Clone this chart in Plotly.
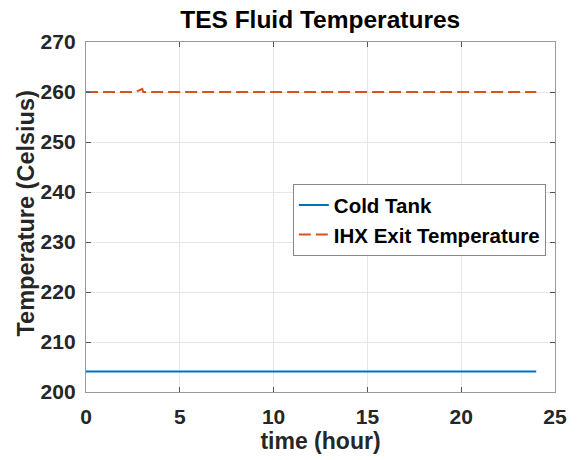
import plotly.graph_objects as go

time_cold = [0, 24]
temp_cold = [204.1, 204.1]
time_ihx = [0, 2.65, 3.0, 3.05, 24]
temp_ihx = [260, 260, 260.6, 260, 260]

x_ticks = [0, 5, 10, 15, 20, 25]
y_ticks = [200, 210, 220, 230, 240, 250, 260, 270]

font_family = "Liberation Sans, Arial, sans-serif"
ink = "#262626"

fig = go.Figure()
fig.add_trace(go.Scatter(x=time_cold, y=temp_cold, mode="lines", name="<b>Cold Tank</b>",
                         line=dict(color="#0072BD", width=2)))
fig.add_trace(go.Scatter(x=time_ihx, y=temp_ihx, mode="lines", name="<b>IHX Exit Temperature</b>",
                         line=dict(color="#D95319", width=2, dash="12px,5px")))

axis_common = dict(showgrid=True, gridcolor="#E6E6E6", gridwidth=1,
                   showline=True, linecolor="#999999", linewidth=1.3, mirror="ticks",
                   ticks="inside", ticklen=5, tickcolor="#555555", zeroline=False,
                   tickfont=dict(family=font_family, size=21, color=ink))

fig.update_xaxes(range=[0, 25], tickvals=x_ticks, ticktext=[f"<b>{v}</b>" for v in x_ticks],
                 ticklabelstandoff=6,
                 title=dict(text="<b>time (hour)</b>", font=dict(family=font_family, size=23, color=ink), standoff=2),
                 **axis_common)
fig.update_yaxes(range=[200, 270], tickvals=y_ticks, ticktext=[f"<b>{v}</b>" for v in y_ticks],
                 ticklabelstandoff=5,
                 **axis_common)

fig.add_annotation(text="<b>Temperature (Celsius)</b>", textangle=-90,
                   xref="paper", yref="paper", x=-0.13, y=0.51, xanchor="center", yanchor="middle",
                   showarrow=False, font=dict(family=font_family, size=23.5, color=ink))

fig.update_layout(
    width=579, height=460,
    margin=dict(l=86, r=24, t=42, b=68),
    paper_bgcolor="white", plot_bgcolor="white",
    title=dict(text="<b>TES Fluid Temperatures</b>", x=0.553, xanchor="center", y=0.957, yanchor="middle",
               font=dict(family=font_family, size=24.5, color="#000000")),
    legend=dict(x=0.441, y=0.594, xanchor="left", yanchor="top",
                bgcolor="white", bordercolor="#888888", borderwidth=1,
                font=dict(family=font_family, size=20.5, color="#000000"),
                tracegroupgap=0, itemwidth=30),
    showlegend=True,
)

fig.write_html("out.html")
